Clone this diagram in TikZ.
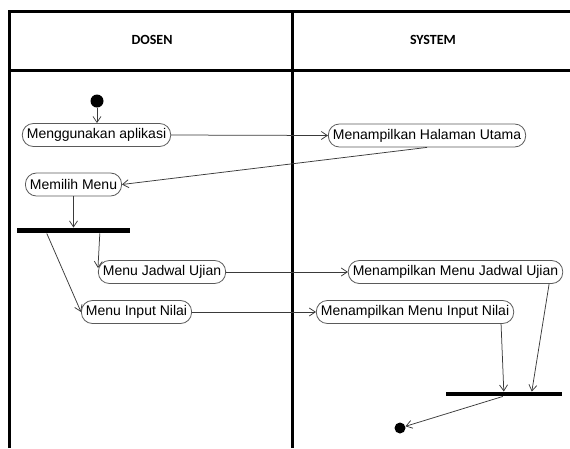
\documentclass[tikz,border=0pt]{standalone}
\usepackage{fontspec}
\setmainfont{Liberation Sans}
\newfontfamily\headfont{Carlito}
\usetikzlibrary{arrows.meta}
\definecolor{flowline}{HTML}{3A3A3A}
\definecolor{actborder}{HTML}{5A5A5A}
\tikzset{
  lane/.style={line width=3pt, black},
  lanehead/.style={font=\headfont\bfseries\fontsize{14}{16}\selectfont},
  activity/.style={draw=actborder, line width=0.8pt, rounded corners=11pt,
    minimum height=23pt, inner xsep=4.5pt, inner ysep=0pt,
    font=\fontsize{14}{16}\selectfont},
  bar/.style={fill=black, inner sep=0pt},
  dot/.style={circle, fill=black, inner sep=0pt},
  flow/.style={draw=flowline, line width=0.75pt,
    -{Straight Barb[length=6pt,width=8pt,line width=0.75pt]}}
}
\begin{document}
\begin{tikzpicture}[x=1pt,y=-1pt]
\useasboundingbox (0,0) rectangle (570,448);
% swimlane frame
\draw[lane] (9.5,448) -- (9.5,11.5) -- (570,11.5);
\draw[lane] (9.5,70) -- (570,70);
\draw[lane] (292.5,11.5) -- (292.5,448);
\node[lanehead] (hdosen) at (152,40) {DOSEN};
\node[lanehead] (hsystem) at (433,40) {SYSTEM};

% initial and final nodes
\node[dot, minimum size=13pt] (start) at (97,101) {};
\node[dot, minimum size=11pt] (end) at (400,428) {};

% activities
\node[activity] (a1) at (96.5,135) {Menggunakan aplikasi};
\node[activity] (s1) at (427,135.5) {Menampilkan Halaman Utama};
\node[activity] (a2) at (73.5,184.5) {Memilih Menu};
\node[activity] (a3) at (162,272) {Menu Jadwal Ujian};
\node[activity] (a4) at (136.5,312) {Menu Input Nilai};
\node[activity] (s2) at (455.5,272) {Menampilkan Menu Jadwal Ujian};
\node[activity] (s3) at (415,312) {Menampilkan Menu Input Nilai};

% fork and join bars
\node[bar, minimum width=113pt, minimum height=5.5pt] (fork) at (73.5,230.5) {};
\node[bar, minimum width=116pt, minimum height=4.5pt] (join) at (504,394) {};

% control flow
\draw[flow] (start) -- (start |- a1.north);
\draw[flow] (a1.east) -- (s1.west);
\draw[flow] (s1.south) -- (a2.east);
\draw[flow] (a2.south) -- (a2.south |- fork.north);
\draw[flow] ([xshift=83pt]fork.south west) -- ([yshift=4pt]a3.west);
\draw[flow] ([xshift=30pt]fork.south west) -- (a4.west);
\draw[flow] (a3.east) -- (s2.west);
\draw[flow] (a4.east) -- (s3.west);
\draw[flow] ([xshift=-14pt]s2.south east) -- ([xshift=86pt]join.north west);
\draw[flow] ([xshift=-13pt]s3.south east) -- ([xshift=58pt]join.north west);
\draw[flow] ([xshift=57pt]join.south west) -- (end);
\end{tikzpicture}
\end{document}
